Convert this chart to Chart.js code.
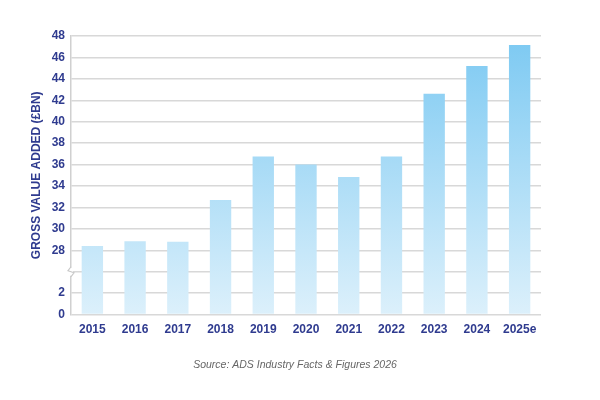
<!DOCTYPE html>
<html>
<head>
<meta charset="utf-8">
<script src="https://cdn.jsdelivr.net/npm/chart.js@4"></script>
<style>
  html, body { margin: 0; padding: 0; background: #fff; }
</style>
</head>
<body>
<canvas id="mycanvas" width="600" height="400"></canvas>
<script>
// years and gross value added (£bn)
var years = ['2015', '2016', '2017', '2018', '2019', '2020', '2021', '2022', '2023', '2024', '2025e'];
var gva = [28.4, 28.85, 28.8, 32.7, 36.75, 36.0, 34.85, 36.75, 42.6, 45.2, 47.15];
// broken axis: 0, 2, (break), 28 ... 48
var yTickLabels = ['0', '2', '', '28', '30', '32', '34', '36', '38', '40', '42', '44', '46', '48'];
var breakAt = 28;
var source = 'Source: ADS Industry Facts & Figures 2026';

var navy = '#2f3b8f';

// map a value onto the broken scale (one slot per tick)
function toAxis(v) {
	if (v >= breakAt) return (v - breakAt) / 2 + 3;
	return v / 2;
}

var extras = {
	id: 'extras',
	afterDraw: function(chart) {
		var ctx = chart.ctx;
		var y = chart.scales.y.getPixelForValue(2);
		var x = chart.chartArea.left;
		ctx.save();
		// little zigzag where the axis is broken
		ctx.fillStyle = '#fff';
		ctx.fillRect(x - 2, y - 4, 4, 8);
		ctx.strokeStyle = '#c8c8c8';
		ctx.lineWidth = 1.2;
		ctx.beginPath();
		ctx.moveTo(x, y - 5);
		ctx.lineTo(x - 3, y - 1);
		ctx.lineTo(x + 3, y + 1);
		ctx.lineTo(x, y + 5);
		ctx.stroke();
		// source line
		ctx.fillStyle = '#666';
		ctx.font = 'italic 10.5px "Liberation Sans"';
		ctx.textAlign = 'center';
		ctx.textBaseline = 'middle';
		ctx.fillText(source, 295, 365);
		ctx.restore();
	}
};

var ctx = document.getElementById('mycanvas');

new Chart(ctx, {
	type: 'bar',
	data: {
		labels: years,
		datasets: [{
			label: 'GVA',
			data: gva.map(toAxis),
			backgroundColor: function(c) {
				var area = c.chart.chartArea;
				if (!area) return '#a6dcf6';
				var g = c.chart.ctx.createLinearGradient(0, area.bottom, 0, area.top);
				g.addColorStop(0, '#dcf0fb');
				g.addColorStop(1, '#7cc9f2');
				return g;
			},
			borderWidth: 0,
			barPercentage: 0.5,
			categoryPercentage: 1.0
		}]
	},
	options: {
		responsive: false,
		animation: false,
		layout: { padding: { top: 36, right: 59, bottom: 63, left: 29 } },
		plugins: {
			legend: { display: false },
			tooltip: { enabled: false }
		},
		scales: {
			x: {
				grid: { display: false },
				border: { display: false },
				ticks: {
					color: navy,
					padding: 0,
					font: { family: 'Liberation Sans', size: 12, weight: 'bold' }
				}
			},
			y: {
				min: 0,
				max: 13,
				afterFit: function(s) { s.width = 42; },
				grid: { color: '#d8d8d8', lineWidth: 1.5, drawTicks: false },
				border: { display: true, color: '#d0d0d0', width: 1.5 },
				ticks: {
					stepSize: 1,
					padding: 6,
					color: navy,
					font: { family: 'Liberation Sans', size: 12, weight: 'bold' },
					callback: function(v) { return yTickLabels[v]; }
				},
				title: {
					display: true,
					text: 'GROSS VALUE ADDED (£BN)',
					color: navy,
					padding: 0,
					font: { family: 'Liberation Sans', size: 12, weight: 'bold' }
				}
			}
		}
	},
	plugins: [extras]
});
</script>
</body>
</html>
